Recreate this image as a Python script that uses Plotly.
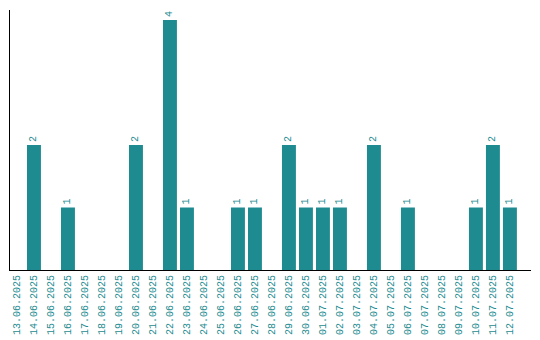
import plotly.graph_objects as go

dates = ["13.06.2025", "14.06.2025", "15.06.2025", "16.06.2025", "17.06.2025", "18.06.2025",
         "19.06.2025", "20.06.2025", "21.06.2025", "22.06.2025", "23.06.2025", "24.06.2025",
         "25.06.2025", "26.06.2025", "27.06.2025", "28.06.2025", "29.06.2025", "30.06.2025",
         "01.07.2025", "02.07.2025", "03.07.2025", "04.07.2025", "05.07.2025", "06.07.2025",
         "07.07.2025", "08.07.2025", "09.07.2025", "10.07.2025", "11.07.2025", "12.07.2025"]
counts = [0, 2, 0, 1, 0, 0,
          0, 2, 0, 4, 1, 0,
          0, 1, 1, 0, 2, 1,
          1, 1, 0, 2, 0, 1,
          0, 0, 0, 1, 2, 1]

teal = "#1E8B90"
labels = [str(v) if v > 0 else "" for v in counts]

fig = go.Figure(go.Bar(
    x=list(range(len(dates))), y=counts, width=0.82,
    marker=dict(color=teal, line=dict(width=0)),
    text=labels, textposition="outside", textangle=-90,
    textfont=dict(family="Liberation Mono", size=10, color=teal),
    cliponaxis=False,
))
fig.update_layout(
    width=532, height=332, margin=dict(l=2, r=9, t=2, b=70, autoexpand=False),
    paper_bgcolor="white", plot_bgcolor="white", showlegend=False,
    xaxis=dict(range=[-0.41, 30.24], tickmode="array", tickvals=list(range(len(dates))),
               ticktext=dates, tickangle=-90, showgrid=False, zeroline=False,
               showline=True, linecolor="black", linewidth=1, ticks="", automargin=False,
               tickfont=dict(family="Liberation Mono", size=10, color=teal)),
    yaxis=dict(range=[0, 4.16], showgrid=False, zeroline=False, showticklabels=False,
               showline=True, linecolor="black", linewidth=1, ticks="", automargin=False),
)
fig.write_html("out.html")
